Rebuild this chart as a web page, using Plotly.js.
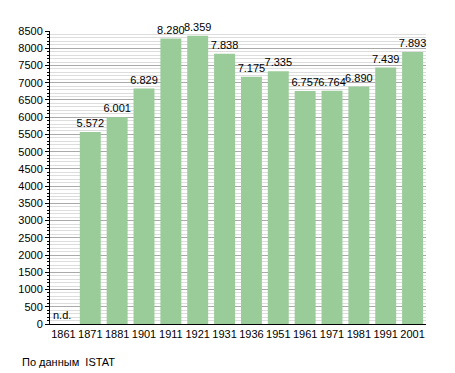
<!DOCTYPE html>
<html><head><meta charset="utf-8">
<script src="https://cdn.plot.ly/plotly-3.0.1.min.js"></script>
<style>body{margin:0;background:#fff}#c{width:455px;height:373px}</style>
</head><body><div id="c"></div>
<script>
const years = ['1861','1871','1881','1901','1911','1921','1931','1936','1951','1961','1971','1981','1991','2001'];
const population = [0,5572,6001,6829,8280,8359,7838,7175,7335,6757,6764,6890,7439,7893];
const labels = ['', '5.572','6.001','6.829','8.280','8.359','7.838','7.175','7.335','6.757','6.764','6.890','7.439','7.893'];
const yTicks = [0,500,1000,1500,2000,2500,3000,3500,4000,4500,5000,5500,6000,6500,7000,7500,8000,8500];
const font = {family:'Liberation Sans, Arial, sans-serif', size:11, color:'#000'};
Plotly.newPlot('c', [{
  type:'bar', x:years, y:population, text:labels, textposition:'outside',
  textfont:font, cliponaxis:false, constraintext:'none', textangle:0,
  marker:{color:'#99cc99'}, hoverinfo:'none'
}], {
  width:455, height:373, margin:{l:50,r:29,t:31,b:49},
  paper_bgcolor:'#fff', plot_bgcolor:'#fff', bargap:0.22,
  font:font, showlegend:false,
  xaxis:{type:'category', range:[-0.5,13.5], showline:true, linecolor:'#000', linewidth:1, ticks:'', tickfont:font, showgrid:false},
  yaxis:{range:[0,8500], tickvals:yTicks, showline:true, linecolor:'#000', linewidth:1,
    ticks:'outside', ticklen:4, tickcolor:'#000', gridcolor:'#aaaaaa', gridwidth:1, zeroline:false, tickfont:font,
    minor:{dtick:100, tick0:0, ticks:'outside', ticklen:2, tickcolor:'#000', showgrid:true, gridcolor:'#dddddd', gridwidth:1}},
  annotations:[
    {x:-0.45, y:0, xref:'x', yref:'y', xanchor:'left', text:'n.d.', showarrow:false, yanchor:'bottom', yshift:1, font:font},
    {x:-0.08, y:-0.13, xref:'paper', yref:'paper', xanchor:'left', yanchor:'middle', text:'По данным  ISTAT', showarrow:false, font:font}
  ]
}, {staticPlot:true});
</script></body></html>
